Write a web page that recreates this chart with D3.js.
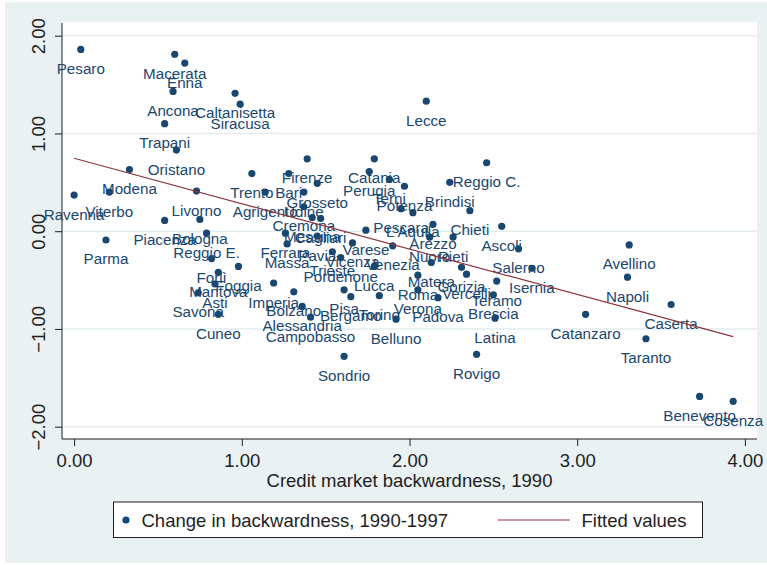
<!DOCTYPE html>
<html>
<head>
<meta charset="utf-8">
<script src="https://cdn.jsdelivr.net/npm/d3@7"></script>
<style>
  body { margin: 0; background: #ffffff; }
  svg { display: block; }
</style>
</head>
<body>
<svg id="chart" width="767" height="565"></svg>
<script>
// Italian provinces: credit market backwardness in 1990 and its change 1990-1997
const provinces = [
  "Pesaro", "Macerata", "Enna", "Ancona", "Caltanisetta", "Siracusa", "Trapani", "Lecce",
  "Oristano", "Modena", "Trento", "Bari", "Firenze", "Catania", "Perugia", "Reggio C.",
  "Ravenna", "Viterbo", "Livorno", "Piacenza", "Bologna", "Parma", "Reggio E.", "Forlì",
  "Foggia", "Mantova", "Asti", "Savona", "Cuneo", "Imperia", "Bolzano", "Alessandria",
  "Campobasso", "Sondrio", "Belluno", "Latina", "Rovigo", "Catanzaro", "Avellino", "Napoli",
  "Caserta", "Taranto", "Benevento", "Cosenza", "Ascoli", "Salerno", "Isernia", "Brindisi",
  "Chieti", "Potenza", "Terni", "L'Aquila", "Pescara", "Arezzo", "Rieti", "Nuoro",
  "Teramo", "Brescia", "Padova", "Verona", "Torino", "Bergamo", "Pisa", "Gorizia",
  "Vercelli", "Roma", "Matera", "Agrigento", "Udine", "Grosseto", "Cremona", "Messina",
  "Cagliari", "Ferrara", "Massa", "Pavia", "Varese", "Vicenza", "Venezia", "Trieste",
  "Pordenone", "Lucca"
];
const backwardness1990 = [
  0.04, 0.60, 0.66, 0.59, 0.96, 0.99, 0.54, 2.10,
  0.61, 0.33, 1.06, 1.28, 1.39, 1.79, 1.76, 2.46,
  0.00, 0.21, 0.73, 0.54, 0.75, 0.19, 0.79, 0.82,
  0.98, 0.86, 0.84, 0.74, 0.86, 1.19, 1.31, 1.36,
  1.41, 1.61, 1.92, 2.51, 2.40, 3.05, 3.31, 3.30,
  3.56, 3.41, 3.73, 3.93, 2.55, 2.65, 2.73, 2.24,
  2.36, 1.97, 1.88, 2.02, 1.95, 2.14, 2.26, 2.12,
  2.52, 2.50, 2.17, 2.05, 1.82, 1.65, 1.61, 2.31,
  2.34, 2.05, 2.13, 1.14, 1.37, 1.45, 1.37, 1.42,
  1.47, 1.26, 1.27, 1.45, 1.74, 1.66, 1.90, 1.54,
  1.59, 1.79
];
const change9097 = [
  1.86, 1.81, 1.72, 1.43, 1.41, 1.30, 1.10, 1.33,
  0.83, 0.63, 0.59, 0.59, 0.74, 0.74, 0.61, 0.70,
  0.37, 0.40, 0.41, 0.11, 0.12, -0.09, -0.02, -0.28,
  -0.36, -0.42, -0.54, -0.63, -0.85, -0.53, -0.62, -0.77,
  -0.88, -1.28, -0.90, -0.89, -1.26, -0.85, -0.14, -0.47,
  -0.75, -1.10, -1.69, -1.74, 0.05, -0.18, -0.38, 0.50,
  0.21, 0.46, 0.53, 0.19, 0.23, 0.07, -0.06, -0.06,
  -0.51, -0.65, -0.68, -0.60, -0.66, -0.67, -0.60, -0.37,
  -0.44, -0.45, -0.32, 0.40, 0.40, 0.49, 0.25, 0.14,
  0.13, -0.02, -0.13, -0.05, 0.01, -0.12, -0.15, -0.21,
  -0.27, -0.36
];

// Linear fit of change on 1990 backwardness
const fitIntercept = 0.746;
const fitSlope = -0.4644;

const xTicks = [0, 1, 2, 3, 4];
const yTicks = [-2, -1, 0, 1, 2];
const xTitle = "Credit market backwardness, 1990";
const legendLabels = ["Change in backwardness, 1990-1997", "Fitted values"];

const navy = "#1a476f";
const cranberry = "#90353b";
const bluishGray = "#e9f1f3";
const axisInk = "#1e1e1e";
const fontFamily = "'Liberation Sans', Arial, sans-serif";

const data = provinces.map((name, i) => ({ name, x: backwardness1990[i], y: change9097[i] }));

const svg = d3.select("#chart");

// graph region and plot region
svg.append("rect").attr("x", 5).attr("y", 2).attr("width", 762).attr("height", 561).attr("fill", bluishGray);
const plot = { left: 62, top: 22, right: 757, bottom: 439 };
svg.append("rect").attr("x", plot.left).attr("y", plot.top)
  .attr("width", plot.right - plot.left).attr("height", plot.bottom - plot.top).attr("fill", "#ffffff");

const x = d3.scaleLinear().domain([0, 4]).range([74.1, 744.9]);
const y = d3.scaleLinear().domain([-2, 2]).range([426.7, 35.7]);

// horizontal grid lines
svg.append("g").selectAll("line").data(yTicks).join("line")
  .attr("x1", plot.left + 1).attr("x2", plot.right)
  .attr("y1", d => y(d)).attr("y2", d => y(d))
  .attr("stroke", "#e3ecef").attr("stroke-width", 1.6);

// y axis
const yAxis = svg.append("g").attr("transform", `translate(${plot.left},0)`)
  .call(d3.axisLeft(y).tickValues(yTicks).tickFormat(d3.format(".2f")).tickSize(7).tickSizeOuter(0));
yAxis.select(".domain").remove();
yAxis.selectAll(".tick line").attr("stroke", axisInk);
yAxis.selectAll(".tick text")
  .attr("transform", "rotate(-90)")
  .attr("x", 0).attr("y", -17).attr("dy", null)
  .attr("text-anchor", "middle")
  .attr("fill", axisInk).style("font-family", fontFamily).style("font-size", "18.5px");
svg.append("line").attr("x1", plot.left).attr("x2", plot.left)
  .attr("y1", plot.top + 1).attr("y2", plot.bottom).attr("stroke", axisInk).attr("stroke-width", 1);

// x axis
const xAxis = svg.append("g").attr("transform", `translate(0,${plot.bottom})`)
  .call(d3.axisBottom(x).tickValues(xTicks).tickFormat(d3.format(".2f")).tickSize(7).tickSizeOuter(0));
xAxis.select(".domain").remove();
xAxis.selectAll(".tick line").attr("stroke", axisInk);
xAxis.selectAll(".tick text")
  .attr("y", 27.7).attr("dy", null)
  .attr("fill", axisInk).style("font-family", fontFamily).style("font-size", "18.5px");
svg.append("line").attr("x1", plot.left).attr("x2", plot.right)
  .attr("y1", plot.bottom).attr("y2", plot.bottom).attr("stroke", axisInk).attr("stroke-width", 1);

svg.append("text").attr("x", 409.5).attr("y", 486.7)
  .attr("text-anchor", "middle").attr("fill", axisInk)
  .style("font-family", fontFamily).style("font-size", "18.5px")
  .text(xTitle);

// scatter markers and their province labels
const pts = svg.append("g");
pts.selectAll("circle").data(data).join("circle")
  .attr("cx", d => x(d.x)).attr("cy", d => y(d.y)).attr("r", 3.6)
  .attr("fill", navy);
pts.selectAll("text").data(data).join("text")
  .attr("x", d => x(d.x)).attr("y", d => y(d.y) + 24.5)
  .attr("text-anchor", "middle").attr("fill", navy)
  .style("font-family", fontFamily).style("font-size", "15.2px")
  .text(d => d.name);

// fitted values line
const xExtent = d3.extent(backwardness1990);
svg.append("path")
  .datum(xExtent.map(v => [v, fitIntercept + fitSlope * v]))
  .attr("d", d3.line().x(d => x(d[0])).y(d => y(d[1])))
  .attr("fill", "none").attr("stroke", cranberry).attr("stroke-width", 1.2);

// legend
const lg = svg.append("g");
lg.append("rect").attr("x", 113.5).attr("y", 502).attr("width", 589).attr("height", 35.5)
  .attr("fill", "#ffffff").attr("stroke", axisInk).attr("stroke-width", 1);
lg.append("circle").attr("cx", 126).attr("cy", 520).attr("r", 3.6).attr("fill", navy);
lg.append("text").attr("x", 141.5).attr("y", 526.6).attr("fill", axisInk)
  .style("font-family", fontFamily).style("font-size", "18.5px").text(legendLabels[0]);
lg.append("line").attr("x1", 497.6).attr("x2", 569.8).attr("y1", 520).attr("y2", 520)
  .attr("stroke", cranberry).attr("stroke-width", 1.2);
lg.append("text").attr("x", 581.5).attr("y", 526.6).attr("fill", axisInk)
  .style("font-family", fontFamily).style("font-size", "18.5px").text(legendLabels[1]);
</script>
</body>
</html>
